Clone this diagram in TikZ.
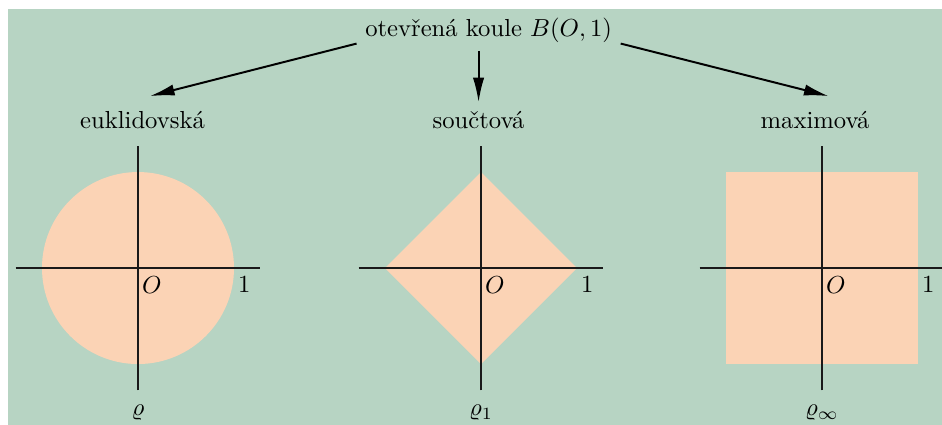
\documentclass[tikz,border=0pt]{standalone}
\usepackage{amsmath}
\usepackage{amssymb}
\usetikzlibrary{calc}
\usetikzlibrary{positioning}
\usetikzlibrary{arrows.meta}
\definecolor{kouleBg}{HTML}{B7D4C3}
\definecolor{kouleColor}{HTML}{FBD3B5}

\begin{document}
\begin{tikzpicture}[x=0.685cm, y=0.685cm, >={Latex[length=10pt,width=4.6pt]}]
	\tikzset{koule/.style={fill=kouleColor, draw=none},
		osa/.style={thick, black!90},
		popis/.style={below right, inner xsep=1.5pt}}
	\useasboundingbox (0,0) rectangle (19.625,8.854);
	\fill[kouleBg] (0.167,0) rectangle (19.625,8.667);
	\coordinate (O1) at (2.875,3.27);
	\coordinate (O2) at (10.02,3.27);
	\coordinate (O3) at (17.125,3.27);
	% koule
	\fill[koule] (O1) circle (2);
	\fill[koule] ($(O2)+(0,2)$) -- ($(O2)+(2,0)$) -- ($(O2)+(0,-2)$) -- ($(O2)+(-2,0)$) -- cycle;
	\fill[koule] ($(O3)+(-2,-2)$) rectangle ($(O3)+(2,2)$);
	% osy
	\draw[osa] ($(O1)+(-2.55,0)$) -- ($(O1)+(2.55,0)$);
	\draw[osa] ($(O1)+(0,-2.55)$) -- ($(O1)+(0,2.55)$);
	\draw[osa] ($(O2)+(-2.55,0)$) -- ($(O2)+(2.55,0)$);
	\draw[osa] ($(O2)+(0,-2.55)$) -- ($(O2)+(0,2.55)$);
	\draw[osa] ($(O3)+(-2.55,0)$) -- ($(O3)+(2.55,0)$);
	\draw[osa] ($(O3)+(0,-2.55)$) -- ($(O3)+(0,2.55)$);
	\node[popis] (o1) at (O1) {$O$};
	\node[popis] (o2) at (O2) {$O$};
	\node[popis] (o3) at (O3) {$O$};
	\node[popis] (j1) at ($(O1)+(2,0)$) {$1$};
	\node[popis] (j2) at ($(O2)+(2,0)$) {$1$};
	\node[popis] (j3) at ($(O3)+(2,0)$) {$1$};
	\node (m1) at ($(O1)+(0,-3.02)$) {$\varrho$};
	\node (m2) at ($(O2)+(0,-3.02)$) {$\varrho_1$};
	\node (m3) at ($(O3)+(0,-3.02)$) {$\varrho_\infty$};
	% nazvy
	\node (koule) at (10.18,8.23) {otevřená koule $B(O,1)$};
	\node (eukl) at (2.97,6.36) {euklidovská};
	\node (souc) at (9.97,6.36) {součtová};
	\node (maxi) at (16.98,6.36) {maximová};
	\draw[->,thick] ([yshift=3pt]koule.south west) -- ([xshift=3pt,yshift=2.5pt]eukl.north);
	\draw[->,thick] (koule.south -| souc.north) -- (souc.north);
	\draw[->,thick] ([yshift=3pt]koule.south east) -- ([xshift=5.5pt,yshift=2.5pt]maxi.north);
\end{tikzpicture}
\end{document}
